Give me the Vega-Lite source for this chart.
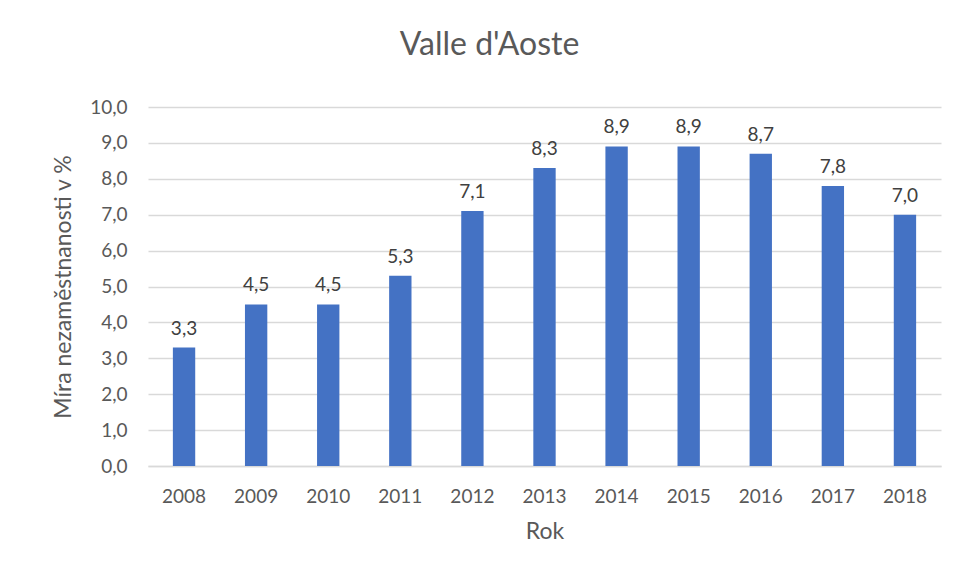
{
  "$schema": "https://vega.github.io/schema/vega-lite/v6.json",
  "autosize": {"type": "none"},
  "width": 793,
  "height": 359,
  "padding": {"left": 148, "top": 107, "right": 16, "bottom": 112},
  "background": "white",
  "title": {
    "text": "Valle d'Aoste",
    "fontSize": 32,
    "font": "Lato",
    "fontWeight": "normal",
    "color": "#595959",
    "anchor": "middle",
    "offset": 36,
    "dx": -55
  },
  "data": {
    "values": [
      {"Rok": "2008", "value": 3.3},
      {"Rok": "2009", "value": 4.5},
      {"Rok": "2010", "value": 4.5},
      {"Rok": "2011", "value": 5.3},
      {"Rok": "2012", "value": 7.1},
      {"Rok": "2013", "value": 8.3},
      {"Rok": "2014", "value": 8.9},
      {"Rok": "2015", "value": 8.9},
      {"Rok": "2016", "value": 8.7},
      {"Rok": "2017", "value": 7.8},
      {"Rok": "2018", "value": 7.0}
    ]
  },
  "encoding": {
    "x": {
      "field": "Rok",
      "type": "nominal",
      "scale": {"paddingInner": 0.69, "paddingOuter": 0.345},
      "axis": {
        "title": "Rok",
        "labelAngle": 0,
        "labelPadding": 21,
        "ticks": false,
        "domainColor": "#d9d9d9",
        "domainWidth": 1.5,
        "titlePadding": 14
      }
    },
    "y": {
      "field": "value",
      "type": "quantitative",
      "scale": {"domain": [0, 10]},
      "axis": {
        "title": "Míra nezaměstnanosti v %",
        "values": [0, 1, 2, 3, 4, 5, 6, 7, 8, 9, 10],
        "format": ".1f",
        "ticks": false,
        "domain": false,
        "labelPadding": 21,
        "gridColor": "#d9d9d9",
        "gridWidth": 1.3,
        "titlePadding": 14
      }
    }
  },
  "layer": [
    {"mark": {"type": "bar", "color": "#4472c4"}},
    {
      "mark": {"type": "text", "baseline": "bottom", "dy": -9, "fontSize": 19, "font": "Lato", "color": "#404040"},
      "encoding": {"text": {"field": "value", "type": "quantitative", "format": ".1f"}}
    }
  ],
  "config": {
    "locale": {"number": {"decimal": ",", "thousands": " ", "grouping": [3], "currency": ["", " Kč"]}},
    "view": {"stroke": null},
    "axis": {
      "labelFont": "Lato",
      "labelFontSize": 19,
      "labelColor": "#595959",
      "titleFont": "Lato",
      "titleFontSize": 23,
      "titleFontWeight": "normal",
      "titleColor": "#595959"
    }
  }
}
